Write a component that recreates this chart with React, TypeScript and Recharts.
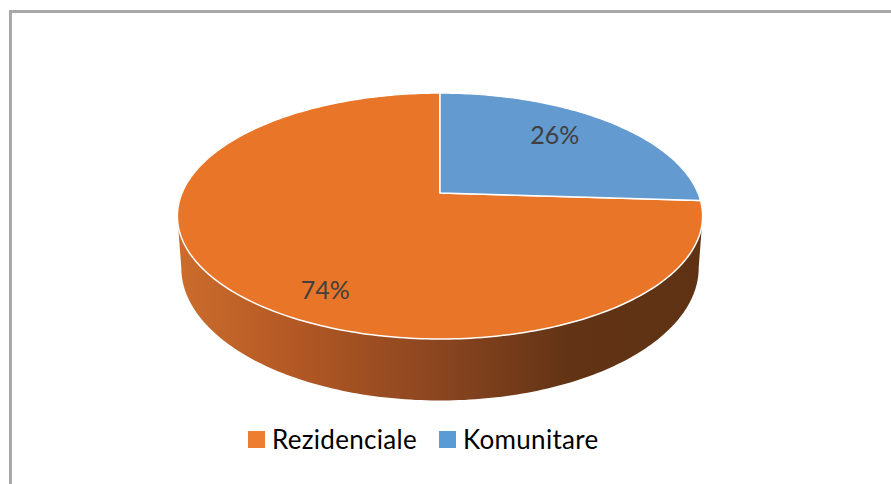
import React from "react";
import { PieChart, Pie, Cell, Legend } from "recharts";

const categories = ["Rezidenciale", "Komunitare"];
const shares = [74, 26];
const topColors = ["#E87528", "#639AD0"];
const legendColors = ["#ED7D31", "#5B9BD5"];

const data = categories.map((name, i) => ({ name, value: shares[i] }));

// fake 3D: flatten + light perspective, then extrude the front rim
const FLAT = 0.46;
const PERSP = -0.187;
const DEPTH = 50;
const TAPER = 0.985;
const FONT = "Lato, 'Open Sans', sans-serif";

const toTheta = (angle: number) => 90 - angle;

const project = (cx: number, cy: number, R: number, theta: number, r: number) => {
  const t = (theta * Math.PI) / 180;
  const u = r * Math.sin(t);
  const v = -r * Math.cos(t);
  const s = 1 / (1 + PERSP * v);
  return { x: cx + R * u * s, y: cy + R * FLAT * v * s, s, v };
};

const arcPoints = (cx: number, cy: number, R: number, a: number, b: number) => {
  const pts = [];
  const n = Math.max(2, Math.ceil((b - a) / 1));
  for (let i = 0; i <= n; i++) pts.push(project(cx, cy, R, a + ((b - a) * i) / n, 1));
  return pts;
};

const Slice3D = (props: any) => {
  const { cx, cy, outerRadius: R, startAngle, endAngle, fill, index } = props;
  let a = Math.min(toTheta(startAngle), toTheta(endAngle));
  let b = Math.max(toTheta(startAngle), toTheta(endAngle));
  while (a < 0) {
    a += 360;
    b += 360;
  }

  const top = arcPoints(cx, cy, R, a, b);
  const topPath =
    `M${cx},${cy} ` + top.map((p) => `L${p.x.toFixed(2)},${p.y.toFixed(2)}`).join(" ") + " Z";

  const thL = (Math.acos(PERSP) * 180) / Math.PI;
  const thR = 360 - thL;
  const sa = Math.max(a, thL);
  const sb = Math.min(b, thR);
  let sidePath = "";
  if (sb > sa) {
    const rim = arcPoints(cx, cy, R, sa, sb);
    const bottom = rim
      .map((p) => ({ x: cx + (p.x - cx) * TAPER, y: p.y + DEPTH * p.s }))
      .reverse();
    sidePath =
      rim.map((p, i) => `${i ? "L" : "M"}${p.x.toFixed(2)},${p.y.toFixed(2)}`).join(" ") +
      " " +
      bottom.map((p) => `L${p.x.toFixed(2)},${p.y.toFixed(2)}`).join(" ") +
      " Z";
  }
  const gid = `side-${index}`;

  return (
    <g>
      <defs>
        <linearGradient id={gid} gradientUnits="userSpaceOnUse" x1={cx - R} y1={0} x2={cx + R} y2={0}>
          <stop offset="0" stopColor="#CB6C2C" />
          <stop offset="0.2" stopColor="#B55A25" />
          <stop offset="0.5" stopColor="#8A4520" />
          <stop offset="0.75" stopColor="#623415" />
          <stop offset="1" stopColor="#5E3213" />
        </linearGradient>
      </defs>
      {sidePath && <path d={sidePath} fill={`url(#${gid})`} stroke="none" />}
      <path d={topPath} fill={fill} stroke="#FFFFFF" strokeWidth={1.5} strokeLinejoin="round" />
    </g>
  );
};

const renderLabel = (props: any) => {
  const { cx, cy, outerRadius: R, midAngle, percent } = props;
  let theta = toTheta(midAngle);
  while (theta < 0) theta += 360;
  const p = project(cx, cy, R, theta, 0.8);
  const x = cx + R * 0.61 * Math.sin((theta * Math.PI) / 180);
  const y = p.y + 0.7 * DEPTH * Math.max(0, p.v / 0.8);
  return (
    <text
      x={x}
      y={y}
      textAnchor="middle"
      dominantBaseline="central"
      fontSize={25}
      fontFamily={FONT}
      fill="#404040"
    >
      {`${Math.round(percent * 100)}%`}
    </text>
  );
};

const LegendBox = (props: any) => {
  const items = [...(props.payload || [])].sort(
    (p: any, q: any) => categories.indexOf(p.value) - categories.indexOf(q.value)
  );
  return (
    <div
      style={{
        display: "flex",
        alignItems: "center",
        fontFamily: FONT,
        fontSize: 26,
        letterSpacing: 0.3,
        lineHeight: "24px",
      }}
    >
      {items.map((entry: any, i: number) => (
        <div key={`leg-${i}`} style={{ display: "flex", alignItems: "center", marginRight: 22 }}>
          <span
            style={{
              display: "inline-block",
              width: 17,
              height: 17,
              background: legendColors[categories.indexOf(entry.value)],
              marginRight: 7,
            }}
          />
          <span style={{ color: "#000000" }}>{entry.value}</span>
        </div>
      ))}
    </div>
  );
};

export default function App() {
  return (
    <div style={{ position: "absolute", left: 0, top: 0, width: 891, height: 484, overflow: "hidden", background: "#FFFFFF" }}>
      <div
        style={{
          position: "absolute",
          left: 9,
          top: 10,
          width: 1000,
          height: 1000,
          borderLeft: "3px solid #A8A8A8",
          borderTop: "3px solid #A8A8A8",
        }}
      />
      <div style={{ position: "absolute", left: 0, top: 0 }}>
        <PieChart width={891} height={484} margin={{ top: 0, right: 0, bottom: 0, left: 0 }}>
          <Pie
            data={data}
            dataKey="value"
            nameKey="name"
            cx={440}
            cy={193}
            outerRadius={258}
            startAngle={90}
            endAngle={450}
            stroke="none"
            shape={Slice3D}
            label={renderLabel}
            labelLine={false}
            isAnimationActive={false}
          >
            {data.map((entry, index) => (
              <Cell key={`cell-${index}`} fill={topColors[index]} />
            ))}
          </Pie>
          <Legend
            content={<LegendBox />}
            wrapperStyle={{ position: "absolute", left: 248, top: 427, width: 500, bottom: "auto" }}
          />
        </PieChart>
      </div>
    </div>
  );
}
